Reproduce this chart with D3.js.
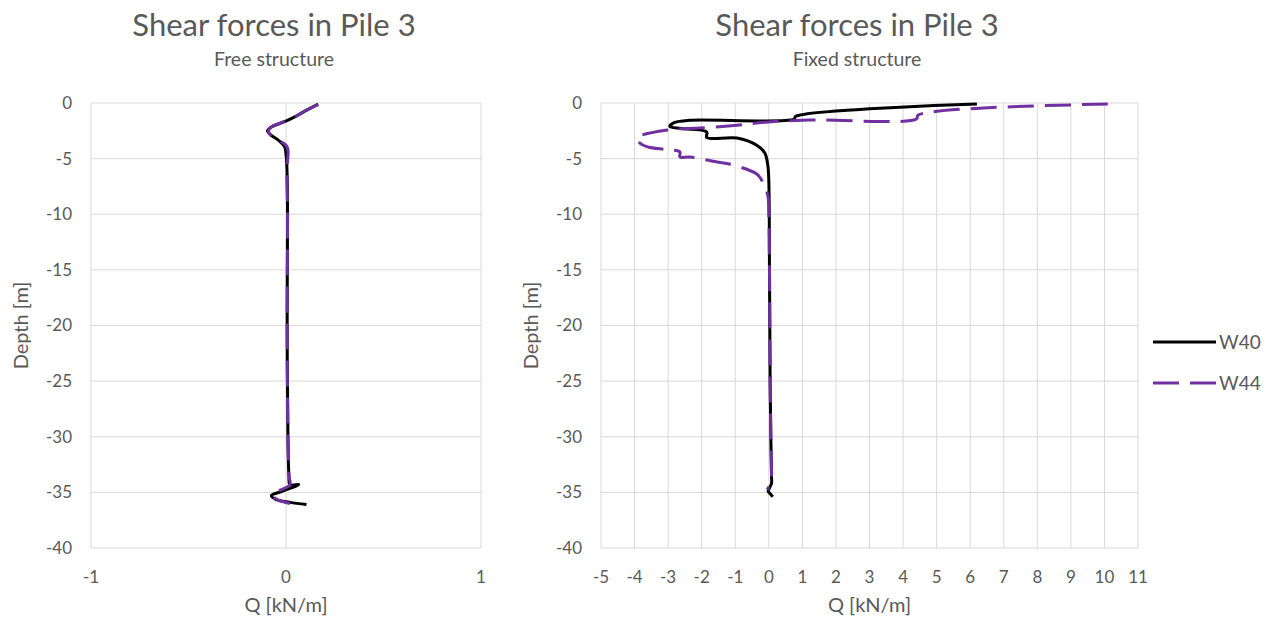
<!DOCTYPE html>
<meta charset="utf-8">
<head>
    <title>Shear forces in Pile 3</title>
    <script type="text/javascript" src="https://d3js.org/d3.v7.min.js"></script>
    <style type="text/css">
        body { margin: 0; background: #ffffff; }
        text { font-family: Lato, "Open Sans", sans-serif; fill: #595959; }
    </style>
</head>
<body>
    <div id="chart"></div>
    <script>
        // ---- data: [Q kN/m, depth m] ----
        var depthTicks = [0, -5, -10, -15, -20, -25, -30, -35, -40];
        var freeTicks = [-1, 0, 1];
        var fixedTicks = [-5, -4, -3, -2, -1, 0, 1, 2, 3, 4, 5, 6, 7, 8, 9, 10, 11];
        var seriesNames = ["W40", "W44"];

        var freeW40 = [
            [0.165, -0.1], [0.11, -0.6], [0.05, -1.2], [-0.01, -1.7], [-0.07, -2.1],
            [-0.095, -2.5], [-0.075, -2.9], [-0.035, -3.4], [-0.008, -3.9], [0.0, -4.6],
            [0.005, -6], [0.008, -10], [0.006, -20], [0.01, -30], [0.015, -33.5],
            [0.02, -34.3], [0.065, -34.3], [-0.02, -34.9], [-0.075, -35.3], [-0.05, -35.65],
            [0.02, -35.9], [0.105, -36.1]
        ];
        var freeW44 = [
            [0.165, -0.15], [0.1, -0.7], [0.04, -1.3], [-0.03, -1.8], [-0.085, -2.3],
            [-0.085, -2.8], [-0.04, -3.3], [0.0, -3.8], [0.01, -4.2], [0.005, -6],
            [0.008, -10], [0.006, -20], [0.01, -30], [0.015, -33.5], [0.02, -34.3],
            [-0.03, -34.8], [-0.07, -35.2], [-0.05, -35.6], [0.02, -36.0]
        ];
        var fixedW40 = [
            [6.2, -0.1], [0.8, -1.2], [0.75, -1.45], [-2.35, -1.55], [-2.8, -1.75],
            [-2.95, -2.1], [-2.6, -2.3], [-1.85, -2.6], [-1.85, -3.1], [-0.95, -3.15],
            [-0.36, -3.8], [-0.12, -4.5], [-0.03, -5.6], [0.0, -7], [0.02, -15],
            [0.04, -25], [0.06, -30], [0.08, -33.5], [0.08, -34.2], [0.02, -34.6],
            [-0.02, -34.9], [0.05, -35.15], [0.12, -35.4]
        ];
        var fixedW44 = [
            [10.1, -0.1], [4.45, -1.08], [4.4, -1.44], [1.2, -1.53], [0.0, -1.7],
            [-0.95, -2.0], [-2.05, -2.25], [-2.95, -2.4], [-3.93, -3.15], [-3.8, -3.7],
            [-3.6, -3.95], [-3.05, -4.2], [-2.65, -4.4], [-2.65, -4.85], [-2.35, -4.85],
            [-1.55, -5.3], [-1.15, -5.5], [-0.35, -6.4], [-0.2, -7.0], [-0.03, -8.3],
            [0.0, -10], [0.02, -15], [0.04, -25], [0.06, -30], [0.08, -33.3],
            [0.06, -34.2], [-0.02, -34.6], [-0.05, -34.75]
        ];

        var width = 1274, height = 624;
        var svg = d3.select("#chart").append("svg")
            .attr("width", width)
            .attr("height", height);

        var lineColor = {W40: "#000000", W44: "#7030A0"};
        var dash = {W40: null, W44: "26,11"};

        function drawPanel(cfg) {
            var x = d3.scaleLinear().domain(cfg.xDomain).range([cfg.left, cfg.right]);
            var y = d3.scaleLinear().domain([-40, 0]).range([548, 103]);
            var g = svg.append("g");

            // gridlines
            g.selectAll(".vg").data(cfg.xTicks).enter().append("line")
                .attr("x1", d => x(d)).attr("x2", d => x(d))
                .attr("y1", y(0)).attr("y2", y(-40))
                .attr("stroke", "#d9d9d9").attr("stroke-width", 1);
            g.selectAll(".hg").data(depthTicks).enter().append("line")
                .attr("x1", x(cfg.xDomain[0])).attr("x2", x(cfg.xDomain[1]))
                .attr("y1", d => y(d)).attr("y2", d => y(d))
                .attr("stroke", "#d9d9d9").attr("stroke-width", 1);

            // tick labels
            g.selectAll(".yl").data(depthTicks).enter().append("text")
                .attr("x", cfg.left - 19).attr("y", d => y(d))
                .attr("dy", "0.35em").attr("text-anchor", "end")
                .style("font-size", "17px")
                .text(d => d);
            g.selectAll(".xl").data(cfg.xTicks).enter().append("text")
                .attr("x", d => x(d)).attr("y", 577)
                .attr("dy", "0.35em").attr("text-anchor", "middle")
                .style("font-size", "17px")
                .text(d => d);

            // series
            var line = d3.line()
                .x(d => x(d[0])).y(d => y(d[1]))
                .curve(d3.curveCatmullRom.alpha(0.5));
            cfg.series.forEach(function(s) {
                g.append("path")
                    .datum(s.values)
                    .attr("fill", "none")
                    .attr("stroke", lineColor[s.name])
                    .attr("stroke-width", 3)
                    .attr("stroke-dasharray", dash[s.name])
                    .attr("stroke-linejoin", "round")
                    .attr("d", line);
            });

            // titles
            var cx = cfg.titleX;
            g.append("text").attr("x", cx).attr("y", 36)
                .attr("text-anchor", "middle").style("font-size", "31px")
                .text("Shear forces in Pile 3");
            g.append("text").attr("x", cx).attr("y", 66)
                .attr("text-anchor", "middle").style("font-size", "19.5px")
                .text(cfg.subtitle);
            g.append("text").attr("x", (cfg.left + cfg.right) / 2).attr("y", 612)
                .attr("text-anchor", "middle").style("font-size", "20px")
                .text("Q [kN/m]");
            g.append("text")
                .attr("transform", "translate(" + (cfg.left - 63) + "," + y(-20) + ") rotate(-90)")
                .attr("text-anchor", "middle").style("font-size", "20px")
                .text("Depth [m]");
        }

        drawPanel({
            left: 91, right: 481, xDomain: [-1, 1], xTicks: freeTicks,
            titleX: 274, subtitle: "Free structure",
            series: [{name: "W40", values: freeW40}, {name: "W44", values: freeW44}]
        });
        drawPanel({
            left: 601, right: 1138, xDomain: [-5, 11], xTicks: fixedTicks,
            titleX: 857, subtitle: "Fixed structure",
            series: [{name: "W40", values: fixedW40}, {name: "W44", values: fixedW44}]
        });

        // legend
        var legend = svg.append("g");
        seriesNames.forEach(function(name, i) {
            var ly = 342 + i * 41;
            legend.append("line")
                .attr("x1", 1153).attr("x2", 1216)
                .attr("y1", ly).attr("y2", ly)
                .attr("stroke", lineColor[name]).attr("stroke-width", 3)
                .attr("stroke-dasharray", dash[name]);
            legend.append("text")
                .attr("x", 1219).attr("y", ly).attr("dy", "0.35em")
                .style("font-size", "19px")
                .text(name);
        });
    </script>
</body>
